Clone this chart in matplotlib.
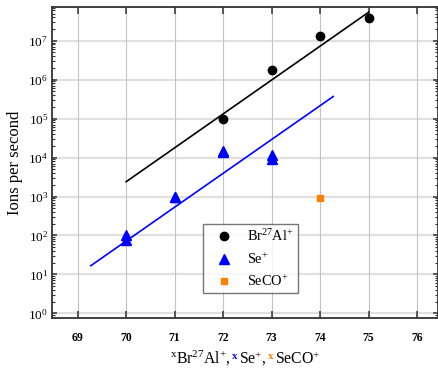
"""Ion yield vs mass number, log scale, with fitted trend lines."""
import numpy as np
import matplotlib
matplotlib.use("Agg")
import matplotlib.pyplot as plt
from matplotlib.ticker import FixedLocator, NullFormatter

plt.rcParams["font.family"] = ["Liberation Serif", "DejaVu Serif"]
plt.rcParams["mathtext.fontset"] = "custom"
plt.rcParams["mathtext.rm"] = "Liberation Serif"
plt.rcParams["mathtext.it"] = "Liberation Serif:italic"
plt.rcParams["mathtext.bf"] = "Liberation Serif:bold"

# measured points
bral_x = [72, 73, 74, 75]
bral_y = [1.0e5, 1.8e6, 1.3e7, 3.9e7]
se_x = [70, 70, 71, 71, 72, 72, 73, 73]
se_y = [100, 75, 1000, 950, 1.4e4, 1.5e4, 1.15e4, 9.0e3]
seco_x = [74]
seco_y = [900]

# fitted lines (end points)
bral_fit_x = [70, 75]
bral_fit_y = [2.4e3, 5.4e7]
se_fit_x = [69.27, 74.27]
se_fit_y = [16.7, 3.7e5]

xticks = [69, 70, 71, 72, 73, 74, 75, 76]
ydecades = [1e0, 1e1, 1e2, 1e3, 1e4, 1e5, 1e6, 1e7]

BLUE = "#0000FF"
ORANGE = "#FF8000"

fig = plt.figure(figsize=(4.39, 3.71), dpi=100)
ax = fig.add_axes([0.1191, 0.1420, 0.8797, 0.8383])

ax.set_yscale("log")
ax.set_xlim(68.476, 76.44)
ax.set_ylim(10 ** -0.128, 10 ** 7.858)

# grid: horizontal decades light and wide, vertical integers thinner
for yv in ydecades:
    ax.axhline(yv, color="#e0e0e0", lw=1.6, zorder=0)
for xv in xticks:
    ax.axvline(xv, color="#c4c4c4", lw=0.8, zorder=0)

ax.plot(bral_fit_x, bral_fit_y, color="black", lw=1.2, zorder=2)
ax.plot(se_fit_x, se_fit_y, color=BLUE, lw=1.2, zorder=2)

ax.plot(bral_x, bral_y, "o", color="black", ms=6, ls="none",
        label=r"Br$^{27}$Al$^{+}$", zorder=3)
ax.plot(se_x, se_y, "^", color=BLUE, ms=6.5, ls="none",
        label=r"Se$^{+}$", zorder=3)
ax.plot(seco_x, seco_y, "s", color=ORANGE, ms=4.5, ls="none",
        label=r"SeCO$^{+}$", zorder=3)

ax.xaxis.set_major_locator(FixedLocator(xticks))
ax.yaxis.set_major_locator(FixedLocator(ydecades))
lo, hi = ax.get_ylim()
minors = [m * d for d in [1e-1] + ydecades for m in range(2, 10) if lo <= m * d <= hi]
ax.yaxis.set_minor_locator(FixedLocator(minors))
ax.yaxis.set_minor_formatter(NullFormatter())

for s in ax.spines.values():
    s.set_color("#333333")
    s.set_linewidth(1.3)

ax.tick_params(axis="x", which="major", direction="in", length=5, width=1.1,
               color="#333333", top=True, labelsize=8.5, pad=10)
ax.tick_params(axis="y", which="major", direction="in", length=3.5, width=1.1,
               color="#333333", right=True, labelsize=9.5, pad=3)
ax.tick_params(axis="y", which="minor", direction="in", length=2, width=0.8,
               color="#333333", right=True)
for lab in ax.get_xticklabels():
    lab.set_fontweight("bold")

ax.set_ylabel("Ions per second", fontsize=12, labelpad=4)

leg = ax.legend(loc="lower left", bbox_to_anchor=(0.391, 0.080), borderaxespad=0,
                fontsize=10.4, frameon=True, fancybox=False, handletextpad=0.5,
                labelspacing=0.5, borderpad=0.3, handlelength=2.2)
leg.get_frame().set_edgecolor("#555555")
leg.get_frame().set_linewidth(1.0)

# x label built from coloured pieces, aligned on a shared baseline
pieces = [
    (r"$^{\mathrm{x}}$Br$^{27}$Al$^{+}$, ", "black"),
    (r"$^{\mathbf{x}}$", BLUE),
    (r"Se$^{+}$, ", "black"),
    (r"$^{\mathbf{x}}$", ORANGE),
    (r"SeCO$^{+}$", "black"),
]
fig.canvas.draw()
renderer = fig.canvas.get_renderer()
widths = []
for s, c in pieces:
    tmp = fig.text(0.5, 0.5, s, fontsize=11.3)
    widths.append(tmp.get_window_extent(renderer).width)
    tmp.remove()
total = sum(widths)
x_center = ax.get_window_extent(renderer).x0 + (245.0 - 52.3)
x_px = x_center - total / 2
y_base = 1 - 364.0 / 371
for (s, c), w in zip(pieces, widths):
    fig.text(x_px / fig.bbox.width, y_base, s, color=c, fontsize=11.3,
             va="baseline", ha="left")
    x_px += w

fig.savefig("out.png", dpi=100)
